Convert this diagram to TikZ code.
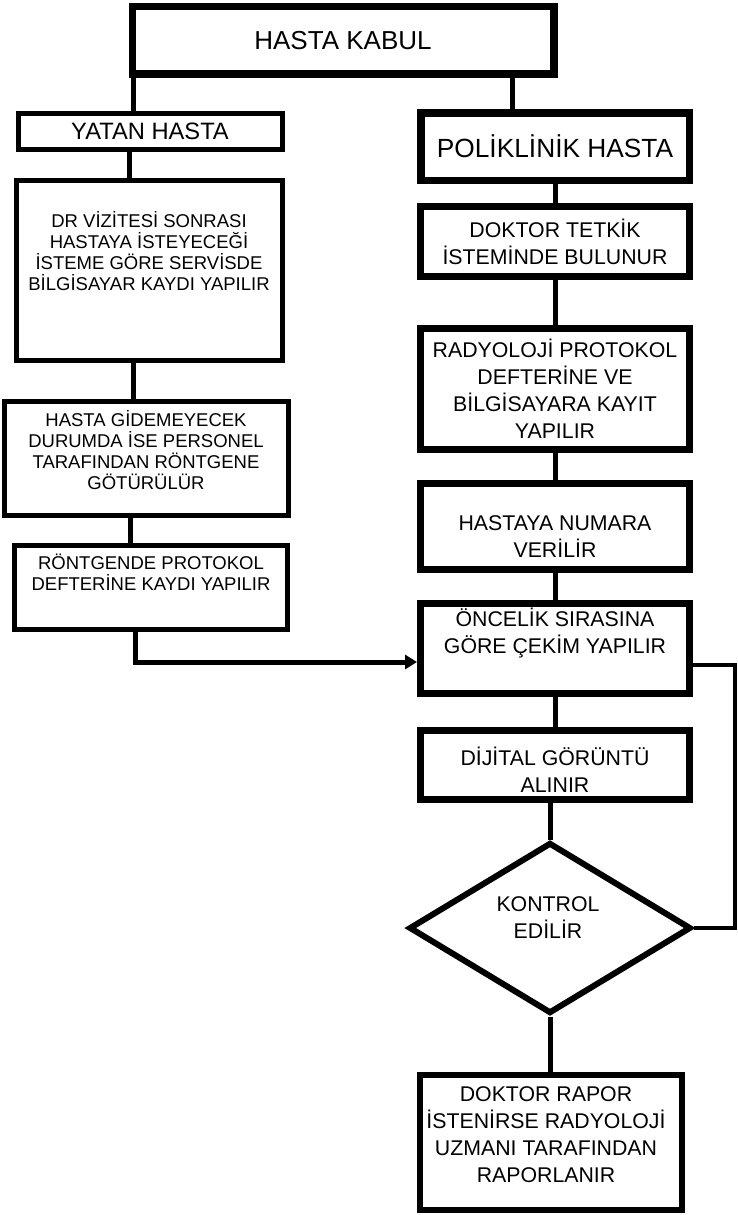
\documentclass[tikz,border=0pt]{standalone}
\usepackage{fontspec}
\setmainfont{Liberation Sans}
\usetikzlibrary{arrows.meta, shapes.geometric, positioning}

\tikzset{
  lbox/.style={draw, line width=5pt, inner sep=0pt},
  rbox/.style={draw, line width=7pt, inner sep=0pt},
  tbox/.style={draw, line width=7.5pt, inner sep=0pt},
  ltext/.style={align=center, font=\fontsize{18.5}{21}\selectfont},
  rtext/.style={align=center, font=\fontsize{21.3}{27}\selectfont},
  conn/.style={line width=5pt},
}

\begin{document}
\begin{tikzpicture}[x=1pt, y=-1pt]
\useasboundingbox (0,0) rectangle (737,1215);
% top
\node[tbox, minimum width=421.5pt, minimum height=67.5pt, font=\fontsize{26}{30}\selectfont] (kabul) at (343,40.5) {HASTA KABUL};

% left column
\node[lbox, minimum width=264pt, minimum height=36pt, font=\fontsize{23.7}{28}\selectfont] (yatan) at (150,131.5) {YATAN HASTA};
\node[lbox, minimum width=266pt, minimum height=180pt] (vizite) at (149.5,270.5) {};
\node[ltext] (vizite-t) at (149,251) {DR VİZİTESİ SONRASI\\HASTAYA İSTEYECEĞİ\\İSTEME GÖRE SERVİSDE\\BİLGİSAYAR KAYDI YAPILIR};
\node[lbox, minimum width=284pt, minimum height=114pt] (gidemez) at (146.5,458.5) {};
\node[ltext] (gidemez-t) at (146,450) {HASTA GİDEMEYECEK\\DURUMDA İSE PERSONEL\\TARAFINDAN RÖNTGENE\\GÖTÜRÜLÜR};
\node[lbox, minimum width=273pt, minimum height=84pt] (rontgen) at (151,587.5) {};
\node[ltext] (rontgen-t) at (151,572) {RÖNTGENDE PROTOKOL\\DEFTERİNE KAYDI YAPILIR};

% right column
\node[tbox, minimum width=268.5pt, minimum height=67.5pt, font=\fontsize{26.3}{30}\selectfont] (poli) at (555,146.5) {POLİKLİNİK HASTA};
\node[rbox, rtext, minimum width=269pt, minimum height=70pt] (tetkik) at (555,241.5) {DOKTOR TETKİK\\İSTEMİNDE BULUNUR};
\node[rbox, rtext, minimum width=269pt, minimum height=121pt] (protokol) at (555,389) {RADYOLOJİ PROTOKOL\\DEFTERİNE VE\\BİLGİSAYARA KAYIT\\YAPILIR};
\node[rbox, minimum width=269pt, minimum height=86pt] (numara) at (555,526.5) {};
\node[rtext] (numara-t) at (555,537) {HASTAYA NUMARA\\VERİLİR};
\node[rbox, minimum width=269pt, minimum height=90pt] (cekim) at (555,648.5) {};
\node[rtext] (cekim-t) at (555,633) {ÖNCELİK SIRASINA\\GÖRE ÇEKİM YAPILIR};
\node[rbox, minimum width=269pt, minimum height=69pt] (dijital) at (555,765) {};
\node[rtext] (dijital-t) at (555,770) {DİJİTAL GÖRÜNTÜ\\ALINIR};
\node[diamond, draw, line width=6pt, inner sep=0pt, minimum width=282pt, minimum height=171pt] (kontrol) at (550,928) {};
\node[rtext] (kontrol-t) at (548,918) {KONTROL\\EDİLİR};
\node[draw, line width=6pt, inner sep=0pt, minimum width=262pt, minimum height=135pt] (rapor) at (551,1142.5) {};
\node[rtext] (rapor-t) at (546,1135) {DOKTOR RAPOR\\İSTENİRSE RADYOLOJİ\\UZMANI TARAFINDAN\\RAPORLANIR};

% connectors
\draw[conn] (kabul.south -| 133,0) -- (yatan.north -| 133,0);
\draw[conn] (kabul.south -| 512,0) -- (poli.north -| 512,0);
\draw[conn] (yatan.south -| 129,0) -- (vizite.north -| 129,0);
\draw[conn] (vizite.south -| 133,0) -- (gidemez.north -| 133,0);
\draw[conn] (gidemez.south -| 130,0) -- (rontgen.north -| 130,0);
\coordinate (dogru) at (135,662);
\draw[conn, -{Triangle[length=12pt,width=14pt]}] (rontgen.south -| dogru) -- (dogru) -- (cekim.west |- dogru);
\draw[conn] (poli) -- (tetkik);
\draw[conn] (tetkik) -- (protokol);
\draw[conn] (protokol) -- (numara);
\draw[conn] (numara) -- (cekim);
\draw[conn] (cekim) -- (dijital);
\draw[conn] (dijital.south -| kontrol.north) -- (kontrol.north);
\draw[conn] (kontrol.south) -- (rapor.north -| kontrol.south);
\coordinate (donus) at (735,665);
\draw[line width=3.5pt] (cekim.east |- donus) -- (donus) -- (donus |- kontrol.east) -- (kontrol.east);
\end{tikzpicture}
\end{document}
